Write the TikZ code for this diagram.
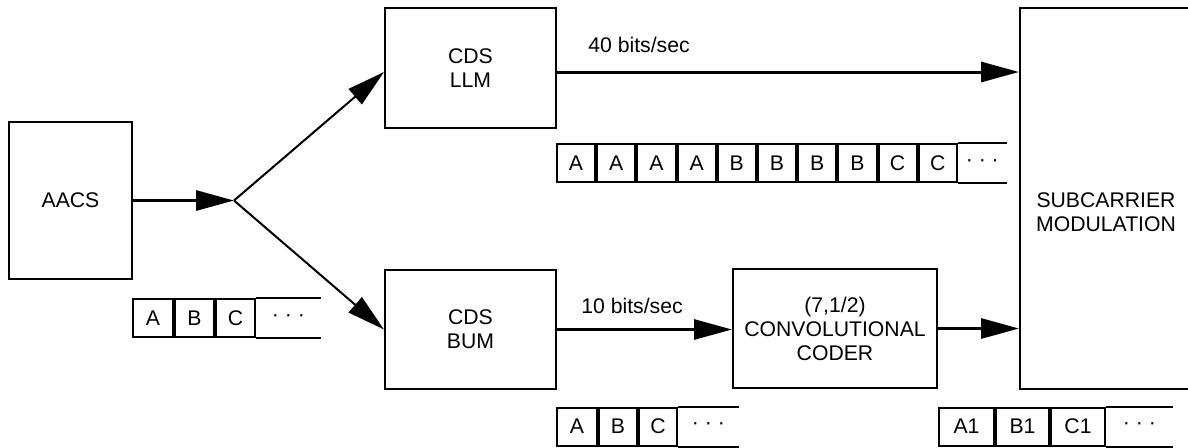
\documentclass[tikz,border=0pt]{standalone}
\usepackage{fontspec}
\setmainfont{Liberation Sans}
\usetikzlibrary{arrows.meta,positioning}

\begin{document}
\begin{tikzpicture}[x=0.5pt, y=-0.5pt,
  font=\fontsize{10.6}{12}\selectfont,
  block/.style={draw, line width=1pt, align=center, inner sep=0pt},
  cell/.style={draw, line width=1pt, minimum width=#1, minimum height=19pt, inner sep=0pt},
  opencell/.style={minimum width=#1, minimum height=19pt, inner sep=0pt},
  flow/.style={line width=1.5pt, -{Triangle[length=19pt, width=10pt]}},
  branch/.style={line width=1pt, -{Triangle[length=19pt, width=10pt]}}]
\useasboundingbox (0,0) rectangle (1188,447);
\node[block, minimum width=61.5pt, minimum height=78.5pt] (aacs) at (70.5,200.5) {AACS};
\node[block, minimum width=85.5pt, minimum height=60pt] (llm) at (470.5,68) {CDS\\LLM};
\node[block, minimum width=85.5pt, minimum height=59.5pt] (bum) at (470.5,329.5) {CDS\\BUM};
\node[block, minimum width=102pt, minimum height=59.5pt] (coder) at (835,328.5) {(7,1/2)\\CONVOLUTIONAL\\CODER};
\node[block, minimum width=86pt, minimum height=190.5pt] (sub) at (1106,198.5) {};
\node[align=center] (subtxt) at (1106,212) {SUBCARRIER\\MODULATION};
\coordinate[right=50.5pt of aacs.east] (split);
\draw[flow] (aacs.east) -- (split);
\draw[branch] (split) -- ([yshift=-2pt]llm.west);
\draw[branch] (split) -- (bum.west);
\draw[flow] ([yshift=-2pt]llm.east) -- ([yshift=-2pt]llm.east -| sub.west);
\draw[flow] (bum.east) -- (bum.east -| coder.west);
\draw[flow] (coder.east) -- (coder.east -| sub.west);
\node (rate40) at (639,45) {40 bits/sec};
\node (rate10) at (632,306) {10 bits/sec};
\node[cell=20pt] (a1) at (153,318) {A};
\node[cell=19.5pt, right=0pt of a1] (a2) {B};
\node[cell=19.5pt, right=0pt of a2] (a3) {C};
\node[opencell=32pt, right=0pt of a3] (adots) {· · ·};
\draw[line width=1pt] (a3.north east) -- (a3.north east -| adots.east) (a3.south east) -- (a3.south east -| adots.east);
\node[cell=19.1pt] (l1) at (576,163) {A};
\node[cell=19.1pt, right=0pt of l1] (l2) {A};
\node[cell=19.1pt, right=0pt of l2] (l3) {A};
\node[cell=19.1pt, right=0pt of l3] (l4) {A};
\node[cell=19.1pt, right=0pt of l4] (l5) {B};
\node[cell=19.1pt, right=0pt of l5] (l6) {B};
\node[cell=19.1pt, right=0pt of l6] (l7) {B};
\node[cell=19.1pt, right=0pt of l7] (l8) {B};
\node[cell=19.1pt, right=0pt of l8] (l9) {C};
\node[cell=19.1pt, right=0pt of l9] (l10) {C};
\node[opencell=24pt, right=0pt of l10] (ldots) {· · ·};
\draw[line width=1pt] (l10.north east) -- (l10.north east -| ldots.east) (l10.south east) -- (l10.south east -| ldots.east);
\node[cell=20pt] (b1) at (577,426.5) {A};
\node[cell=19pt, right=0pt of b1] (b2) {B};
\node[cell=19pt, right=0pt of b2] (b3) {C};
\node[opencell=30pt, right=0pt of b3] (bdots) {· · ·};
\draw[line width=1pt] (b3.north east) -- (b3.north east -| bdots.east) (b3.south east) -- (b3.south east -| bdots.east);
\node[cell=27.5pt] (c1) at (966.5,426.5) {A1};
\node[cell=26.5pt, right=0pt of c1] (c2) {B1};
\node[cell=27pt, right=0pt of c2] (c3) {C1};
\node[opencell=33pt, right=0pt of c3] (cdots) {· · ·};
\draw[line width=1pt] (c3.north east) -- (c3.north east -| cdots.east) (c3.south east) -- (c3.south east -| cdots.east);
\end{tikzpicture}
\end{document}
